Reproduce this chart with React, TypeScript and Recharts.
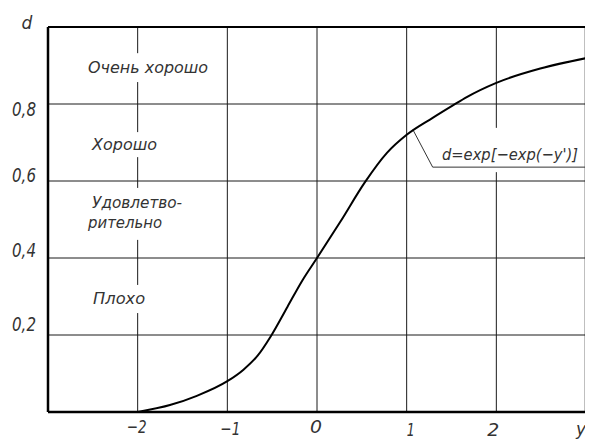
import React from 'react';
import { LineChart, Line, XAxis, YAxis, ReferenceLine, ReferenceDot, Customized } from 'recharts';

// curve d = exp[-exp(-y')] as drawn in the reference
const yPrime = [-2, -1.64, -1.34, -1, -0.82, -0.66, -0.52, -0.33, -0.16, 0, 0.26, 0.535, 0.78, 1, 1.29, 1.52, 1.67, 2, 2.49, 3];
const dValues = [0, 0.018, 0.042, 0.08, 0.11, 0.147, 0.195, 0.273, 0.343, 0.4, 0.494, 0.597, 0.673, 0.72, 0.764, 0.797, 0.818, 0.855, 0.892, 0.919];

const xTicks = [-2, -1, 0, 1, 2, 3];
const xTickLabels = ['−2', '−1', '0', '1', '2', 'y′'];
const yTicks = [0.2, 0.4, 0.6, 0.8];
const yTickLabels = ['0,2', '0,4', '0,6', '0,8'];

const gradeNames = ['Очень хорошо', 'Хорошо', 'Удовлетво-', 'рительно', 'Плохо'];
const gradeX = [-2.553, -2.508, -2.508, -2.553, -2.497];
const gradeD = [0.881, 0.681, 0.53, 0.478, 0.281];

const formulaText = "d=exp[−exp(−y')]";
const formulaX = 1.394;
const formulaD = 0.655;

const data = yPrime.map((x, i) => ({ x, d: dValues[i] }));

// style constants
const FONT = '"DejaVu Sans", sans-serif';
const TEXT_FILL = '#333';
const gradeWidths = [120, 65, 90, 74, 52];
const formulaWidth = 136;
const xTickDx = [-1, 3, -1, 4, -3, -3];
const xTickDy = [21, 23, 21, 24, 24, 23];
const xTickWidths = [20, 20, 12, 8, 12, 14];
const yTickDy = [-4, -1, 1, 12];
const yTickWidths = [24, 24, 24, 24];

const GRID = '#1a1a1a';

const XTick = (props: any) => {
  const { x, y, payload } = props;
  const i = xTicks.indexOf(payload.value);
  if (i < 0) return null;
  return (
    <text
      x={x + xTickDx[i]}
      y={y + xTickDy[i]}
      textAnchor="middle"
      fontFamily={FONT}
      fontStyle="italic"
      fontSize={18}
      fill={TEXT_FILL}
      textLength={xTickWidths[i]}
      lengthAdjust="spacingAndGlyphs"
    >
      {xTickLabels[i]}
    </text>
  );
};

const YTick = (props: any) => {
  const { x, y, payload } = props;
  const i = yTicks.findIndex((t) => Math.abs(t - payload.value) < 1e-6);
  if (i < 0) return null;
  return (
    <text
      x={x - 12}
      y={y + yTickDy[i]}
      textAnchor="end"
      fontFamily={FONT}
      fontStyle="italic"
      fontSize={19}
      fill={TEXT_FILL}
      textLength={yTickWidths[i]}
      lengthAdjust="spacingAndGlyphs"
    >
      {yTickLabels[i]}
    </text>
  );
};

const makeTextShape = (label: string, width: number) => (p: any) => (
  <text
    x={p.cx}
    y={p.cy}
    fontFamily={FONT}
    fontStyle="italic"
    fontSize={16}
    fill={TEXT_FILL}
    textLength={width}
    lengthAdjust="spacingAndGlyphs"
  >
    {label}
  </text>
);

const minusTwoSegments: [number, number][] = [
  [1.0, 0.932],
  [0.857, 0.727],
  [0.662, 0.582],
  [0.447, 0.33],
  [0.257, 0],
];
const plusTwoSegments: [number, number][] = [
  [1.0, 0.738],
  [0.623, 0],
];
const fullVerticals = [-1, 0, 1];

const leaderStart = { x: 1.07, y: 0.733 };
const leaderBend = { x: 1.29, y: 0.636 };
const leaderEnd = { x: 3, y: 0.636 };

export default function App() {
  return (
    <LineChart
      width={585}
      height={432}
      data={data}
      margin={{ top: 19, right: 7, bottom: 0, left: 0 }}
      style={{ overflow: 'visible' }}
    >
      <XAxis
        type="number"
        dataKey="x"
        domain={[-3, 3]}
        ticks={xTicks}
        allowDataOverflow
        height={28}
        tickSize={0}
        tickMargin={0}
        tickLine={false}
        axisLine={{ stroke: '#000', strokeWidth: 2.5 }}
        tick={<XTick />}
        interval={0}
      />
      <YAxis
        type="number"
        dataKey="d"
        domain={[0, 1]}
        ticks={yTicks}
        allowDataOverflow
        width={40}
        tickSize={0}
        tickMargin={0}
        tickLine={false}
        axisLine={{ stroke: '#000', strokeWidth: 2.5 }}
        tick={<YTick />}
        interval={0}
      />
      {yTicks.map((t) => (
        <ReferenceLine key={'h' + t} y={t} stroke={GRID} strokeWidth={1} />
      ))}
      {fullVerticals.map((v) => (
        <ReferenceLine key={'v' + v} x={v} stroke={GRID} strokeWidth={1} />
      ))}
      {minusTwoSegments.map((s, i) => (
        <ReferenceLine
          key={'m2' + i}
          segment={[{ x: -2, y: s[0] }, { x: -2, y: s[1] }]}
          stroke={GRID}
          strokeWidth={1}
        />
      ))}
      {plusTwoSegments.map((s, i) => (
        <ReferenceLine
          key={'p2' + i}
          segment={[{ x: 2, y: s[0] }, { x: 2, y: s[1] }]}
          stroke={GRID}
          strokeWidth={1}
        />
      ))}
      <ReferenceLine y={1} stroke="#000" strokeWidth={2} />
      <ReferenceLine x={3} stroke="#000" strokeWidth={2.5} />
      <ReferenceLine segment={[leaderStart, leaderBend]} stroke="#333" strokeWidth={1} />
      <ReferenceLine segment={[leaderBend, leaderEnd]} stroke="#333" strokeWidth={1} />
      {gradeNames.map((name, i) => (
        <ReferenceDot
          key={'g' + i}
          x={gradeX[i]}
          y={gradeD[i]}
          r={1}
          ifOverflow="visible"
          shape={makeTextShape(name, gradeWidths[i])}
        />
      ))}
      <ReferenceDot
        x={formulaX}
        y={formulaD}
        r={1}
        ifOverflow="visible"
        shape={makeTextShape(formulaText, formulaWidth)}
      />
      <Line
        type="monotone"
        dataKey="d"
        stroke="#000"
        strokeWidth={2}
        dot={false}
        isAnimationActive={false}
      />
      <Customized
        component={
          <text
            x={19}
            y={21}
            fontFamily={FONT}
            fontStyle="italic"
            fontSize={17}
            fill={TEXT_FILL}
            textAnchor="middle"
          >
            d
          </text>
        }
      />
    </LineChart>
  );
}
